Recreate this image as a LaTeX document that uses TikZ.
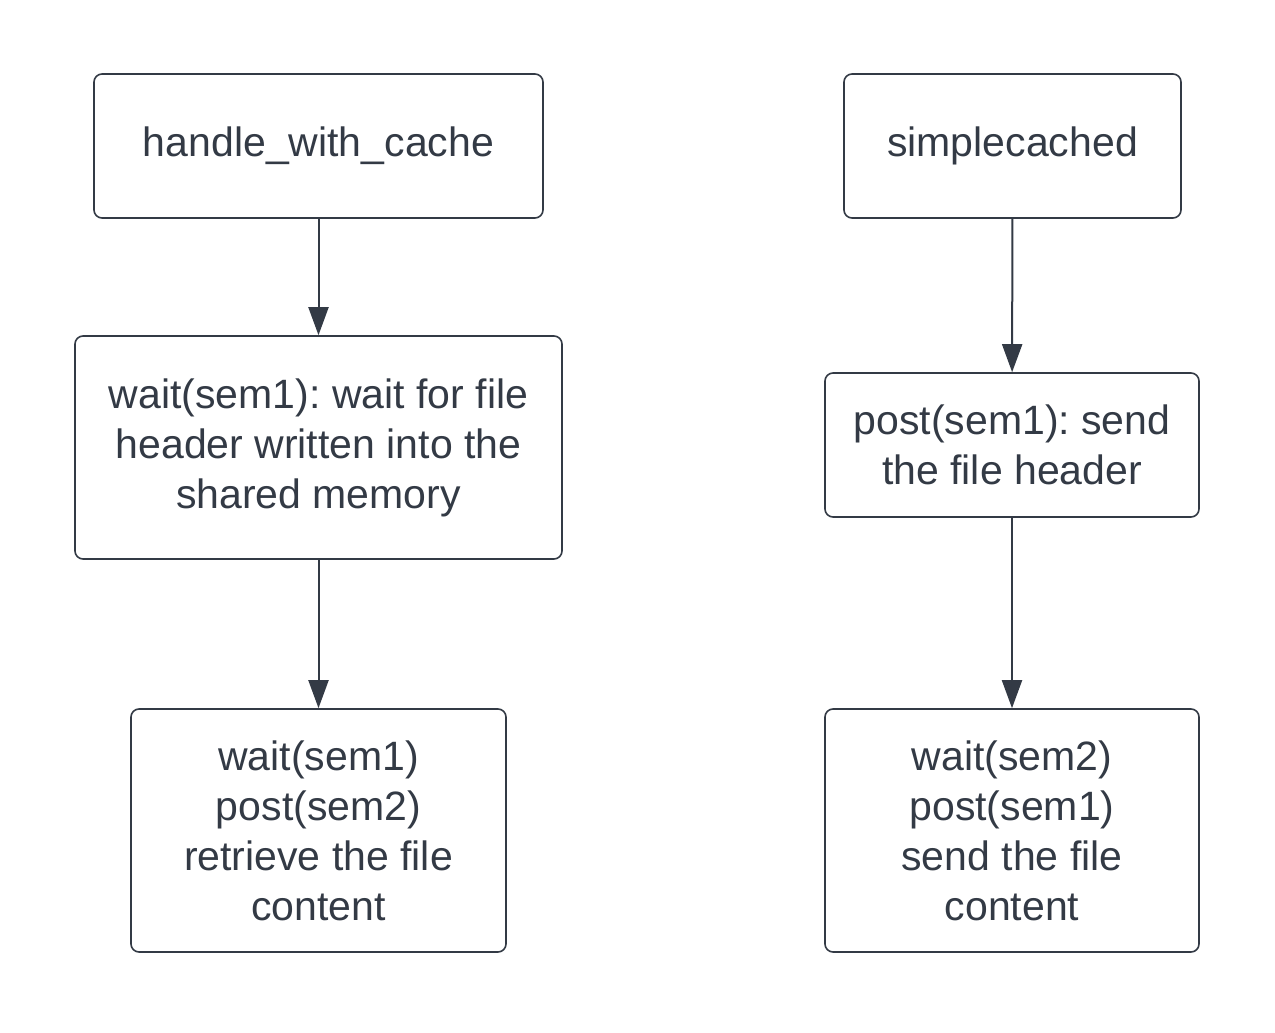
\documentclass[tikz,border=0pt]{standalone}
\usepackage{fontspec}
\setmainfont{Liberation Sans}
\usetikzlibrary{arrows.meta}
\definecolor{ink}{HTML}{333A45}
\frenchspacing
\tikzset{
  box/.style={draw=ink, line width=1.6pt, rounded corners=8pt, align=center, text=ink,
    font=\fontsize{41}{50}\selectfont\frenchspacing, inner sep=0pt},
  flow/.style={draw=ink, line width=2pt, -{Triangle[width=20pt,length=28pt]}}
}
\begin{document}
\begin{tikzpicture}[x=1pt,y=-1pt]
\useasboundingbox (0,0) rectangle (1275,1033);
\node[box, minimum width=449pt, minimum height=144pt] (a) at (318.5,146) {handle\_with\_cache};
\node[box, minimum width=487pt, minimum height=223pt] (b) at (318.5,447.5) {wait(sem1): wait for file\\header written into the\\shared memory};
\node[box, minimum width=375pt, minimum height=243pt] (c) at (318.5,830.5) {wait(sem1)\\post(sem2)\\retrieve the file\\content};
\node[box, minimum width=337pt, minimum height=144pt] (d) at (1012.5,146) {simplecached};
\node[box, minimum width=374pt, minimum height=144pt] (e) at (1012,445) {post(sem1): send\\the file header};
\node[box, minimum width=374pt, minimum height=243pt] (f) at (1012,830.5) {wait(sem2)\\post(sem1)\\send the file\\content};
\draw[flow] (a) -- (b);
\draw[flow] (b) -- (c);
\draw[flow] (d) -- (e);
\draw[flow] (e) -- (f);
\end{tikzpicture}
\end{document}
